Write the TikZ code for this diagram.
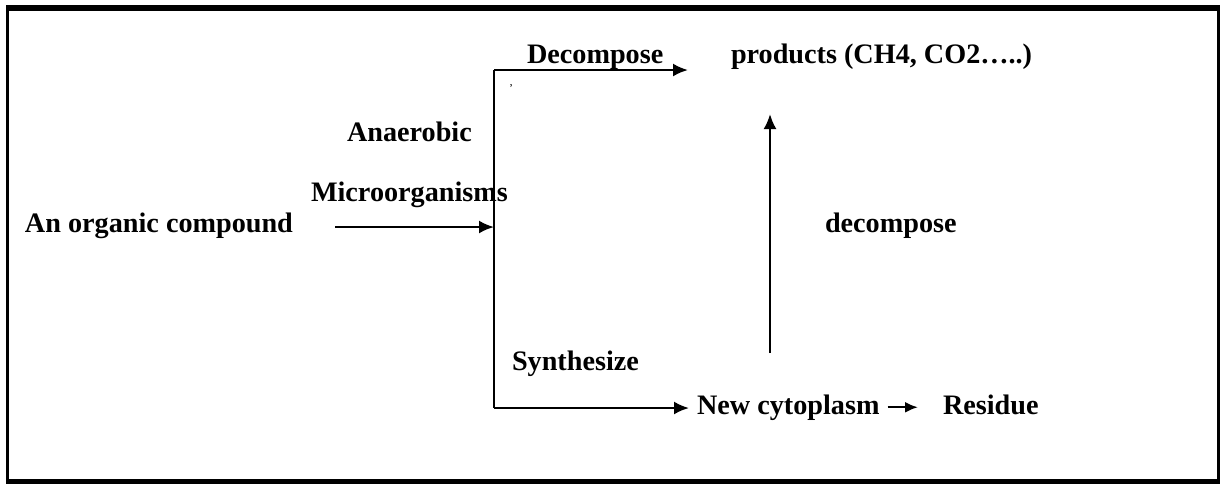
\documentclass[tikz,border=0pt]{standalone}
\usepackage{fontspec}
\setmainfont{Liberation Serif}
\usetikzlibrary{arrows.meta}
\begin{document}
\begin{tikzpicture}[x=0.5pt,y=-0.5pt,
  lbl/.style={anchor=base west,inner sep=0pt,outer sep=0pt,
    font=\fontsize{14.1pt}{16pt}\selectfont\bfseries},
  flow/.style={line width=1.15pt,-{Latex[length=7.5pt,width=6.5pt]}},
  wire/.style={line width=1.15pt}]
\useasboundingbox (0,0) rectangle (1224,484);
% outer frame
\fill (6.5,5) rectangle (1219.5,10.5);
\fill (6.5,479) rectangle (1219.5,484);
\draw[line width=1.1pt] (7.5,5) -- (7.5,484);
\draw[line width=1.1pt] (1218.5,5) -- (1218.5,484);
% labels
\node[lbl] (organic) at (25,232) {An organic compound};
\node[lbl] (anaer) at (347,141) {Anaerobic};
\node[lbl] (micro) at (311,201) {Microorganisms};
\node[lbl] (dec1) at (527,63) {Decompose};
\node[lbl] (prod) at (731,63) {products (CH4, CO2…..)};
\node[lbl] (dec2) at (825,232) {decompose};
\node[lbl] (synth) at (512,370) {Synthesize};
\node[lbl] (cyto) at (697,414) {New cytoplasm};
\node[lbl] (resid) at (943,414) {Residue};
\node[anchor=center,inner sep=0pt,font=\fontsize{6pt}{6pt}\selectfont] (tick) at (511,88) {'};
% branch points and free arrow ends
\coordinate (in) at (335,227);
\coordinate (split) at (494,227);
\coordinate (top) at (494,70);
\coordinate (bot) at (494,408);
\coordinate (ptip) at (688,70);
\coordinate (ctip) at (689,408);
\coordinate (vbot) at (770,353);
\coordinate (vtop) at (770,114);
% connectors
\draw[flow] (in) -- (split);
\draw[wire] (top) -- (bot);
\draw[flow] (top) -- (ptip);
\draw[flow] (bot) -- (ctip);
\draw[flow] (vbot) -- (vtop);
\draw[line width=1.15pt,-{Latex[length=6.5pt,width=5.5pt]},shorten <=4pt,shorten >=12.5pt]
  (cyto.east) -- (cyto.east -| resid.west);
\end{tikzpicture}
\end{document}
